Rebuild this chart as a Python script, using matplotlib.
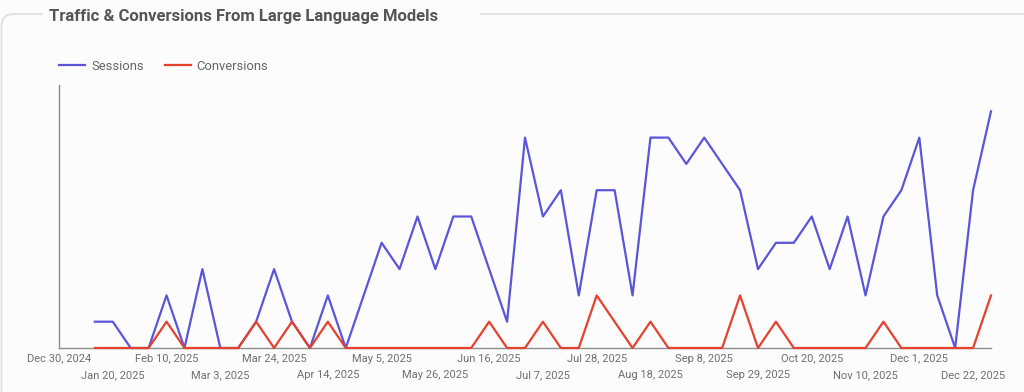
import matplotlib
matplotlib.use("Agg")
from matplotlib import pyplot as plt
from matplotlib.patches import FancyBboxPatch, Rectangle
import matplotlib.dates as mdates
import pandas as pd

# weekly data, Jan 13 2025 .. Dec 29 2025
weeks = pd.date_range("2025-01-13", "2025-12-29", freq="7D")
sessions = [1, 1, 0, 0, 2, 0, 3, 0, 0, 1, 3, 1, 0, 2, 0,
            2, 4, 3, 5, 3, 5, 5, 3, 1, 8,
            5, 6, 2, 6, 6, 2, 8, 8, 7, 8,
            7, 6, 3, 4, 4, 5, 3, 5, 2, 5,
            6, 8, 2, 0, 6, 9]
conversions = [0, 0, 0, 0, 1, 0, 0, 0, 0, 1, 0, 1, 0, 1, 0,
               0, 0, 0, 0, 0, 0, 0, 1, 0, 0,
               1, 0, 0, 2, 1, 0, 1, 0, 0, 0,
               0, 2, 0, 1, 0, 0, 0, 0, 0, 1,
               0, 0, 0, 0, 0, 2]
tick_dates = pd.date_range("2024-12-30", "2025-12-22", freq="21D")
title = "Traffic & Conversions From Large Language Models"

W, H = 1024, 392
bg = "#fcfcfc"
blue = "#5b55d9"
red = "#e4412f"

plt.rcParams["font.family"] = ["Roboto", "DejaVu Sans"]

fig = plt.figure(figsize=(W / 100, H / 100), dpi=100, facecolor=bg)

# card outline (extends past right and bottom edges)
card = FancyBboxPatch((1.5 / W, -40 / H), (W + 40) / W, (H + 40 - 14) / H,
                      boxstyle="round,pad=0,rounding_size=0.012",
                      transform=fig.transFigure, facecolor="none",
                      edgecolor="#dcdcdc", linewidth=1.2,
                      mutation_aspect=W / H, zorder=-2)
fig.add_artist(card)
# gap in the top border behind the title
fig.add_artist(Rectangle((43 / W, 1 - 20 / H), (480 - 43) / W, 12 / H,
                         transform=fig.transFigure, facecolor=bg,
                         edgecolor="none", zorder=-1))
fig.text(49 / W, 1 - 16 / H, title, fontsize=12, fontweight="bold",
         color="#555555", va="center", ha="left")

ax = fig.add_axes([59 / W, 44 / H, (991 - 59) / W, (348 - 85) / H])
ax.set_facecolor("none")

ax.plot(weeks, sessions, color=blue, lw=1.6, label="Sessions",
        clip_on=False, zorder=3)
ax.plot(weeks, conversions, color=red, lw=1.6, label="Conversions",
        clip_on=False, zorder=4)

ax.set_xlim(pd.Timestamp("2024-12-30"), pd.Timestamp("2025-12-29"))
ax.set_ylim(0, 10)

for s in ["top", "right"]:
    ax.spines[s].set_visible(False)
for s in ["left", "bottom"]:
    ax.spines[s].set_color("#8c8c8c")
    ax.spines[s].set_linewidth(1)
ax.set_yticks([])

# alternate labels on two rows
fmt = lambda d: d.strftime("%b ") + str(d.day) + d.strftime(", %Y")
major = tick_dates[::2]
minor = tick_dates[1::2]
ax.set_xticks(mdates.date2num(major))
ax.set_xticklabels([fmt(d) for d in major])
ax.set_xticks(mdates.date2num(minor), minor=True)
ax.set_xticklabels([fmt(d) for d in minor], minor=True)
ax.tick_params(axis="x", which="major", length=0, pad=4, labelsize=8,
               labelcolor="#6f6f6f")
ax.tick_params(axis="x", which="minor", length=0, pad=16, labelsize=8,
               labelcolor="#6f6f6f")

fig.legend(loc="center left", bbox_to_anchor=(59 / W, 1 - 66 / H),
           ncol=2, frameon=False, fontsize=9.4, labelcolor="#666666",
           handlelength=2.0, handletextpad=0.45, columnspacing=1.6,
           borderpad=0, borderaxespad=0)

fig.savefig("out.png", dpi=100, facecolor=bg)
